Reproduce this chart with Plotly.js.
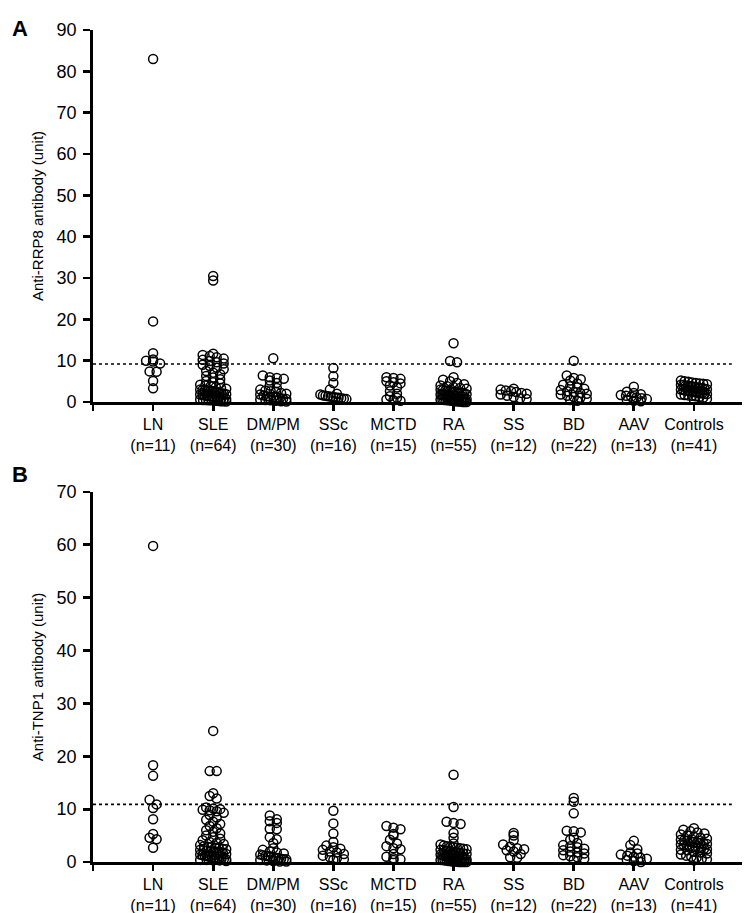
<!DOCTYPE html>
<html>
<head>
<meta charset="utf-8">
<script src="https://cdn.plot.ly/plotly-3.0.1.min.js"></script>
<style>html,body{margin:0;padding:0;background:#fff}#chart{width:745px;height:913px}</style>
</head>
<body>
<div id="chart"></div>
<script>
// ---- data ----
const groups = ["LN", "SLE", "DM/PM", "SSc", "MCTD", "RA", "SS", "BD", "AAV", "Controls"];
const groupN = [11, 64, 30, 16, 15, 55, 12, 22, 13, 41];

// Panel A: Anti-RRP8 antibody (unit)
const lnA = [83.0, 19.5, 11.8, 10.3, 10.0, 9.8, 9.3, 7.4, 7.3, 5.1, 3.3];
const sleA = [30.5, 29.4, 11.7, 11.4, 11.1, 10.8, 10.5, 10.2, 9.9, 9.6, 9.3, 9.0, 8.7, 8.3, 7.9, 7.5, 7.1, 6.7, 6.3, 5.9, 5.5, 5.1,
  4.8, 4.5, 4.2, 4.0, 3.8, 3.6, 3.4, 3.2, 3.0, 2.9, 2.8, 2.7, 2.6, 2.5, 2.4, 2.3, 2.2, 2.1, 2.0, 1.9, 1.8, 1.7, 1.6, 1.5, 1.4, 1.3, 1.2, 1.1, 1.0,
  0.9, 0.8, 0.7, 0.6, 0.5, 0.5, 0.4, 0.4, 0.3, 0.3, 0.2, 0.2, 0.1];
const dmA = [10.6, 6.4, 6.0, 5.8, 5.6, 5.2, 4.6, 4.0, 3.4, 3.0, 2.8, 2.6, 2.4, 2.2, 2.0, 1.8, 1.6, 1.4, 1.3, 1.2, 1.0, 0.9, 0.8, 0.7, 0.6, 0.5, 0.4, 0.3, 0.2, 0.1];
const sscA = [8.2, 6.2, 4.6, 3.0, 2.0, 1.8, 1.6, 1.5, 1.4, 1.3, 1.2, 1.1, 1.0, 0.9, 0.8, 0.7];
const mctdA = [6.0, 5.8, 5.6, 5.0, 4.8, 4.5, 4.0, 3.5, 2.6, 2.0, 1.4, 1.0, 0.6, 0.4, 0.3];
const raA = [14.2, 9.9, 9.6, 6.0, 5.4, 5.0, 4.6, 4.3, 4.0, 3.8, 3.6, 3.4, 3.2, 3.0,
  2.9, 2.8, 2.7, 2.6, 2.5, 2.4, 2.3, 2.2, 2.1, 2.0, 1.9, 1.8, 1.7, 1.6, 1.5, 1.4, 1.3, 1.2, 1.1, 1.0,
  0.9, 0.9, 0.8, 0.8, 0.7, 0.7, 0.6, 0.6, 0.5, 0.5, 0.4, 0.4, 0.3, 0.3, 0.2, 0.2, 0.1, 0.1, 0.0, 0.0, 0.0];
const ssA = [3.2, 3.0, 2.8, 2.6, 2.4, 2.2, 2.0, 1.8, 1.5, 1.2, 0.9, 0.7];
const bdA = [10.0, 6.4, 5.8, 5.5, 5.2, 4.5, 4.2, 3.8, 3.5, 3.2, 2.9, 2.6, 2.4, 2.2, 2.0, 1.8, 1.5, 1.2, 1.0, 0.8, 0.5, 0.3];
const aavA = [3.7, 2.5, 2.2, 1.9, 1.7, 1.5, 1.3, 1.1, 0.9, 0.7, 0.5, 0.3, 0.2];
const ctrlA = [5.2, 5.0, 4.9, 4.7, 4.6, 4.5, 4.4, 4.3, 4.2, 4.1, 4.0, 3.9, 3.8, 3.7, 3.6, 3.5, 3.4, 3.3, 3.2, 3.1,
  3.0, 2.9, 2.8, 2.7, 2.6, 2.5, 2.4, 2.3, 2.2, 2.1, 2.0, 1.9, 1.8, 1.7, 1.6, 1.5, 1.4, 1.2, 1.0, 0.8, 0.6];
const cutoffA = 9.2;

// Panel B: Anti-TNP1 antibody (unit)
const lnB = [59.8, 18.3, 16.3, 11.8, 10.9, 10.2, 8.1, 5.3, 4.6, 4.3, 2.7];
const sleB = [24.8, 17.2, 17.2, 13.0, 12.5, 12.0,
  10.3, 10.1, 10.0, 9.9, 9.8, 9.6, 9.3, 8.9, 8.4, 8.0, 7.6, 7.2, 6.8, 6.4, 6.0, 5.7, 5.4, 5.0, 4.7, 4.4,
  4.1, 3.8, 3.6, 3.4, 3.2, 3.0, 2.9, 2.8, 2.7, 2.6, 2.5, 2.4, 2.3, 2.2, 2.1, 2.0, 1.9, 1.8, 1.7, 1.6, 1.5, 1.4, 1.3, 1.2, 1.1, 1.0,
  0.9, 0.8, 0.7, 0.6, 0.6, 0.5, 0.5, 0.4, 0.4, 0.3, 0.3, 0.2];
const dmB = [8.8, 8.1, 7.7, 7.4, 6.3, 6.2, 4.7, 4.3, 3.6, 2.6, 2.3, 2.0, 1.8, 1.6, 1.4, 1.3, 1.2, 1.1, 1.0, 0.9, 0.8, 0.7, 0.6, 0.5, 0.5, 0.4, 0.3, 0.2, 0.1, 0.1];
const sscB = [9.7, 7.3, 5.4, 3.8, 3.1, 2.8, 2.5, 2.3, 2.0, 1.8, 1.5, 1.2, 0.9, 0.7, 0.5, 0.4];
const mctdB = [6.8, 6.5, 6.2, 5.3, 5.0, 4.2, 3.5, 3.0, 2.6, 2.4, 1.5, 1.0, 0.7, 0.5, 0.4];
const raB = [16.5, 10.4, 7.6, 7.4, 7.2, 5.5, 4.6, 3.5, 3.3, 3.1,
  3.0, 2.9, 2.8, 2.7, 2.6, 2.5, 2.4, 2.3, 2.2, 2.1, 2.0, 1.9, 1.8, 1.7, 1.6, 1.5, 1.4, 1.3, 1.2, 1.1, 1.0,
  0.9, 0.9, 0.8, 0.8, 0.7, 0.7, 0.6, 0.6, 0.5, 0.5, 0.4, 0.4, 0.3, 0.3, 0.2, 0.2, 0.1, 0.1, 0.1, 0.0, 0.0, 0.0, 0.0, 0.0];
const ssB = [5.5, 5.0, 4.1, 3.3, 2.9, 2.6, 2.4, 2.2, 2.0, 1.5, 0.9, 0.8];
const bdB = [12.1, 11.4, 9.2, 5.9, 5.8, 5.6, 4.6, 4.2, 3.6, 3.2, 3.0, 2.8, 2.5, 2.2, 2.0, 1.8, 1.6, 1.3, 1.1, 0.9, 0.6, 0.4];
const aavB = [4.0, 3.2, 2.4, 1.8, 1.6, 1.4, 1.2, 1.0, 0.8, 0.6, 0.4, 0.2, 0.0];
const ctrlB = [6.4, 6.1, 5.8, 5.6, 5.4, 5.2, 5.0, 4.8, 4.6, 4.4, 4.2, 4.1, 4.0, 3.9, 3.8, 3.7, 3.6, 3.5, 3.4, 3.3,
  3.2, 3.1, 3.0, 2.9, 2.8, 2.7, 2.6, 2.5, 2.4, 2.3, 2.2, 2.0, 1.8, 1.6, 1.4, 1.2, 1.0, 0.8, 0.6, 0.5, 0.3];
const cutoffB = 10.9;

const panelA = [lnA, sleA, dmA, sscA, mctdA, raA, ssA, bdA, aavA, ctrlA];
const panelB = [lnB, sleB, dmB, sscB, mctdB, raB, ssB, bdB, aavB, ctrlB];

// ---- layout geometry ----
const W = 745, H = 913;
const xRange = [0, 10.8];
const xDom = [93 / W, 742 / W];
const yDomA = [(H - 402) / H, (H - 30) / H];
const yDomB = [(H - 862) / H, (H - 492) / H];
const yRangeA = [0, 90], yRangeB = [0, 70];
const FONT = "Liberation Sans, Arial, sans-serif";

const pxPerCat = (xDom[1] - xDom[0]) * W / (xRange[1] - xRange[0]);

// Prism-like scatter: bin values by pixel height, spread each bin horizontally
function swarm(vals, catIndex, pxPerUnit) {
  const binPx = 5, dPx = 7, maxPx = 13;
  const bins = {};
  vals.forEach((v, i) => {
    const b = Math.round(v * pxPerUnit / binPx);
    (bins[b] = bins[b] || []).push(i);
  });
  const xs = new Array(vals.length);
  Object.values(bins).forEach(idx => {
    const n = idx.length;
    const step = n > 1 ? Math.min(dPx, 2 * maxPx / (n - 1)) : 0;
    idx.forEach((i, k) => {
      const off = (k - (n - 1) / 2) * step;
      xs[i] = catIndex + off / pxPerCat;
    });
  });
  return xs;
}

const traces = [];
function addPanel(data, xa, ya, yDom, yRange) {
  const pxPerUnit = (yDom[1] - yDom[0]) * H / (yRange[1] - yRange[0]);
  data.forEach((vals, g) => {
    traces.push({
      type: "scatter", mode: "markers",
      x: swarm(vals, g + 1, pxPerUnit), y: vals,
      xaxis: xa, yaxis: ya, cliponaxis: false, showlegend: false,
      hoverinfo: "y",
      marker: { symbol: "circle-open", size: 9, color: "#000", line: { width: 1.5, color: "#000" } }
    });
  });
}
addPanel(panelA, "x", "y", yDomA, yRangeA);
addPanel(panelB, "x2", "y2", yDomB, yRangeB);

const tickvals = [0].concat(groups.map((_, i) => i + 1));
const ticktext = [""].concat(groups.map((g, i) => g + "<br>(n=" + groupN[i] + ")"));

function xaxis(anchor) {
  return {
    domain: xDom, range: xRange, anchor: anchor,
    tickvals: tickvals, ticktext: ticktext,
    ticks: "outside", ticklen: 6, tickwidth: 2.8, tickcolor: "#000",
    showline: true, linewidth: 2.8, linecolor: "#000",
    showgrid: false, zeroline: false,
    tickfont: { family: FONT, size: 16, color: "#000" }
  };
}
function yaxis(anchor, dom, rng, title) {
  return {
    domain: dom, range: rng, anchor: anchor, dtick: 10,
    ticks: "outside", ticklen: 7, tickwidth: 2.8, tickcolor: "#000",
    showline: true, linewidth: 2.8, linecolor: "#000",
    showgrid: false, zeroline: false, ticklabelstandoff: 3,
    tickfont: { family: FONT, size: 18, color: "#000" },
    title: { text: title, font: { family: FONT, size: 15, color: "#000" }, standoff: 10 }
  };
}

const layout = {
  width: W, height: H,
  margin: { l: 0, r: 0, t: 0, b: 0 },
  paper_bgcolor: "#fff", plot_bgcolor: "#fff",
  showlegend: false,
  xaxis: xaxis("y"),
  yaxis: yaxis("x", yDomA, yRangeA, "Anti-RRP8 antibody (unit)"),
  xaxis2: xaxis("y2"),
  yaxis2: yaxis("x2", yDomB, yRangeB, "Anti-TNP1 antibody (unit)"),
  shapes: [
    { type: "line", xref: "x", yref: "y", x0: 0, x1: 10.63, y0: cutoffA, y1: cutoffA, line: { color: "#000", width: 1.6, dash: "dot" } },
    { type: "line", xref: "x2", yref: "y2", x0: 0, x1: 10.63, y0: cutoffB, y1: cutoffB, line: { color: "#000", width: 1.6, dash: "dot" } }
  ],
  annotations: [
    { text: "<b>A</b>", xref: "paper", yref: "paper", x: 10 / W, y: 1 - 14 / H, showarrow: false, font: { family: FONT, size: 22, color: "#000" } },
    { text: "<b>B</b>", xref: "paper", yref: "paper", x: 10 / W, y: 1 - 474 / H, showarrow: false, font: { family: FONT, size: 22, color: "#000" } }
  ]
};

Plotly.newPlot("chart", traces, layout, { staticPlot: true, displayModeBar: false });
</script>
</body>
</html>
